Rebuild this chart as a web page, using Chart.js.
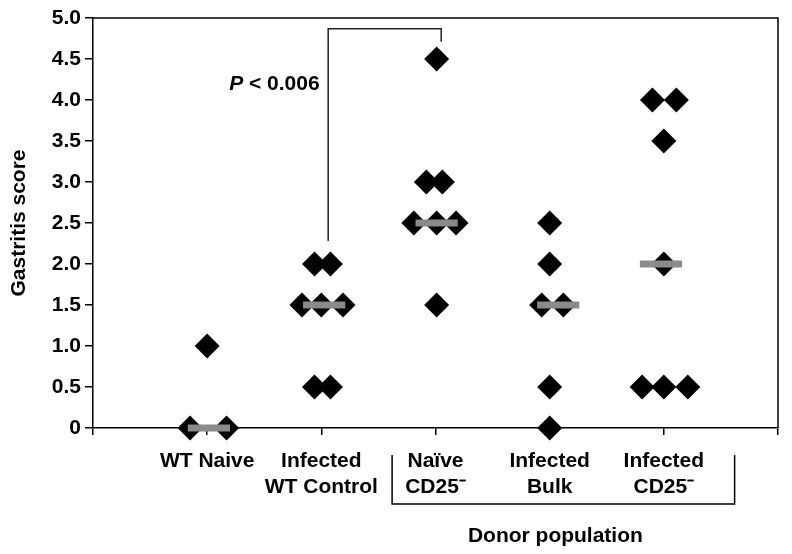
<!DOCTYPE html>
<html>
<head>
<meta charset="utf-8">
<script src="https://cdn.jsdelivr.net/npm/chart.js@4.4.1/dist/chart.umd.min.js"></script>
<style>
  html, body { margin: 0; padding: 0; background: #ffffff; }
  #c { display: block; }
</style>
</head>
<body>
<canvas id="c" width="792" height="554"></canvas>
<script>
// ---- data ----
const categories = ['WT Naive', ['Infected', 'WT Control'], ['Naïve', 'CD25⁻'], ['Infected', 'Bulk'], ['Infected', 'CD25⁻']];
const yTickLabels = ['0', '0.5', '1.0', '1.5', '2.0', '2.5', '3.0', '3.5', '4.0', '4.5', '5.0'];
const scoresWTNaive      = [0, 0, 1.0];
const scoresInfectedWT   = [2.0, 2.0, 1.5, 1.5, 1.5, 0.5, 0.5];
const scoresNaiveCD25    = [4.5, 3.0, 3.0, 2.5, 2.5, 2.5, 1.5];
const scoresInfectedBulk = [2.5, 2.0, 1.5, 1.5, 0.5, 0];
const scoresInfectedCD25 = [4.0, 4.0, 3.5, 2.0, 0.5, 0.5, 0.5];
const medians = [0, 1.5, 2.5, 1.5, 2.0];
// horizontal jitter of each point within its category (category units)
const jitterWTNaive      = [-0.15, 0.17, 0];
const jitterInfectedWT   = [-0.06, 0.08, -0.17, 0, 0.19, -0.06, 0.08];
const jitterNaiveCD25    = [0.01, -0.08, 0.06, -0.19, 0.01, 0.18, 0.01];
const jitterInfectedBulk = [0, 0, -0.07, 0.12, 0, 0];
const jitterInfectedCD25 = [-0.1, 0.11, 0, 0, -0.19, 0, 0.21];
const medianShift = [0.015, 0.025, 0.01, 0.075, -0.025];
const pText = ['P', ' < 0.006'];
const xTitle = 'Donor population';
const yTitle = 'Gastritis score';

const groups = [
  [scoresWTNaive, jitterWTNaive],
  [scoresInfectedWT, jitterInfectedWT],
  [scoresNaiveCD25, jitterNaiveCD25],
  [scoresInfectedBulk, jitterInfectedBulk],
  [scoresInfectedCD25, jitterInfectedCD25]
];

const FONT = '"Liberation Sans", Arial, Helvetica, sans-serif';
const FS = 21;
const pts = [];
groups.forEach((g, gi) => {
  g[0].forEach((v, i) => pts.push({ x: gi + 1 + g[1][i], y: v }));
});

const medianHalf = 0.185;
const medianSets = medians.map((m, i) => ({
  type: 'line',
  data: [{ x: i + 1 + medianShift[i] - medianHalf, y: m }, { x: i + 1 + medianShift[i] + medianHalf, y: m }],
  borderColor: '#8a8a8a',
  borderWidth: 7,
  borderCapStyle: 'butt',
  pointRadius: 0,
  fill: false,
  order: 0,
  clip: false
}));

const decor = {
  id: 'decor',
  afterDraw(chart) {
    const { ctx, chartArea: a, scales: { x, y } } = chart;
    ctx.save();
    // top & right frame
    ctx.strokeStyle = '#000';
    ctx.lineWidth = 1.5;
    ctx.beginPath();
    ctx.moveTo(a.left, a.top);
    ctx.lineTo(a.right, a.top);
    ctx.lineTo(a.right, a.bottom);
    ctx.stroke();
    // significance bracket
    ctx.strokeStyle = '#222';
    ctx.lineWidth = 1.5;
    ctx.beginPath();
    ctx.moveTo(x.getPixelForValue(2.06), y.getPixelForValue(2.28));
    ctx.lineTo(x.getPixelForValue(2.06), y.getPixelForValue(4.87));
    ctx.lineTo(x.getPixelForValue(3.05), y.getPixelForValue(4.87));
    ctx.lineTo(x.getPixelForValue(3.05), y.getPixelForValue(4.71));
    ctx.stroke();
    // P text
    ctx.fillStyle = '#000';
    ctx.textBaseline = 'middle';
    ctx.textAlign = 'left';
    const px = x.getPixelForValue(1.985);
    const py = y.getPixelForValue(4.195);
    ctx.font = 'bold ' + FS + 'px ' + FONT;
    const w2 = ctx.measureText(pText[1]).width;
    ctx.font = 'italic bold ' + FS + 'px ' + FONT;
    const w1 = ctx.measureText(pText[0]).width;
    ctx.fillText(pText[0], px - w1 - w2, py);
    ctx.font = 'bold ' + FS + 'px ' + FONT;
    ctx.fillText(pText[1], px - w2, py);
    // donor bracket
    ctx.strokeStyle = '#000';
    ctx.lineWidth = 1.5;
    ctx.beginPath();
    ctx.moveTo(x.getPixelForValue(2.62), a.bottom + 27);
    ctx.lineTo(x.getPixelForValue(2.62), a.bottom + 76);
    ctx.lineTo(x.getPixelForValue(5.62), a.bottom + 76);
    ctx.lineTo(x.getPixelForValue(5.62), a.bottom + 27);
    ctx.stroke();
    // x title
    ctx.textAlign = 'center';
    ctx.font = 'bold ' + FS + 'px ' + FONT;
    ctx.fillText(xTitle, x.getPixelForValue(4.05), a.bottom + 108);
    ctx.restore();
  }
};

new Chart(document.getElementById('c'), {
  type: 'scatter',
  data: {
    datasets: [
      ...medianSets,
      {
        type: 'scatter',
        data: pts,
        pointStyle: 'rectRot',
        pointRadius: 12.5,
        pointHoverRadius: 12.5,
        backgroundColor: '#000',
        borderColor: '#000',
        borderWidth: 0,
        order: 1,
        clip: false
      }
    ]
  },
  options: {
    responsive: false,
    animation: false,
    devicePixelRatio: 1,
    layout: { padding: { top: 18, right: 13, left: 0, bottom: 0 } },
    plugins: { legend: { display: false }, tooltip: { enabled: false } },
    scales: {
      x: {
        type: 'linear',
        min: 0,
        max: 6,
        afterBuildTicks(s) { s.ticks = [0, 1, 2, 3, 4, 5, 6].map(v => ({ value: v })); },
        afterFit(s) { s.height = 126; },
        ticks: {
          autoSkip: false,
          maxRotation: 0,
          padding: 14,
          color: '#000',
          font: { family: FONT, size: FS, weight: 'bold', lineHeight: 1.2 },
          callback(v) { return (v >= 1 && v <= 5) ? categories[v - 1] : ''; }
        },
        grid: { drawOnChartArea: false, drawTicks: true, tickLength: 7, color: '#000', lineWidth: 1.5 },
        border: { display: true, color: '#000', width: 1.5 }
      },
      y: {
        min: 0,
        max: 5,
        afterBuildTicks(s) { s.ticks = yTickLabels.map((t, i) => ({ value: i * 0.5 })); },
        afterFit(s) { s.width = 93; },
        ticks: {
          padding: 4,
          color: '#000',
          font: { family: FONT, size: FS, weight: 'bold' },
          callback(v) { return yTickLabels[Math.round(v * 2)]; }
        },
        title: {
          display: true,
          text: yTitle,
          color: '#000',
          font: { family: FONT, size: FS, weight: 'bold' },
          padding: { top: 7, bottom: 0 }
        },
        grid: { drawOnChartArea: false, drawTicks: true, tickLength: 8, color: '#000', lineWidth: 1.5 },
        border: { display: true, color: '#000', width: 1.5 }
      }
    }
  },
  plugins: [decor]
});
</script>
</body>
</html>
